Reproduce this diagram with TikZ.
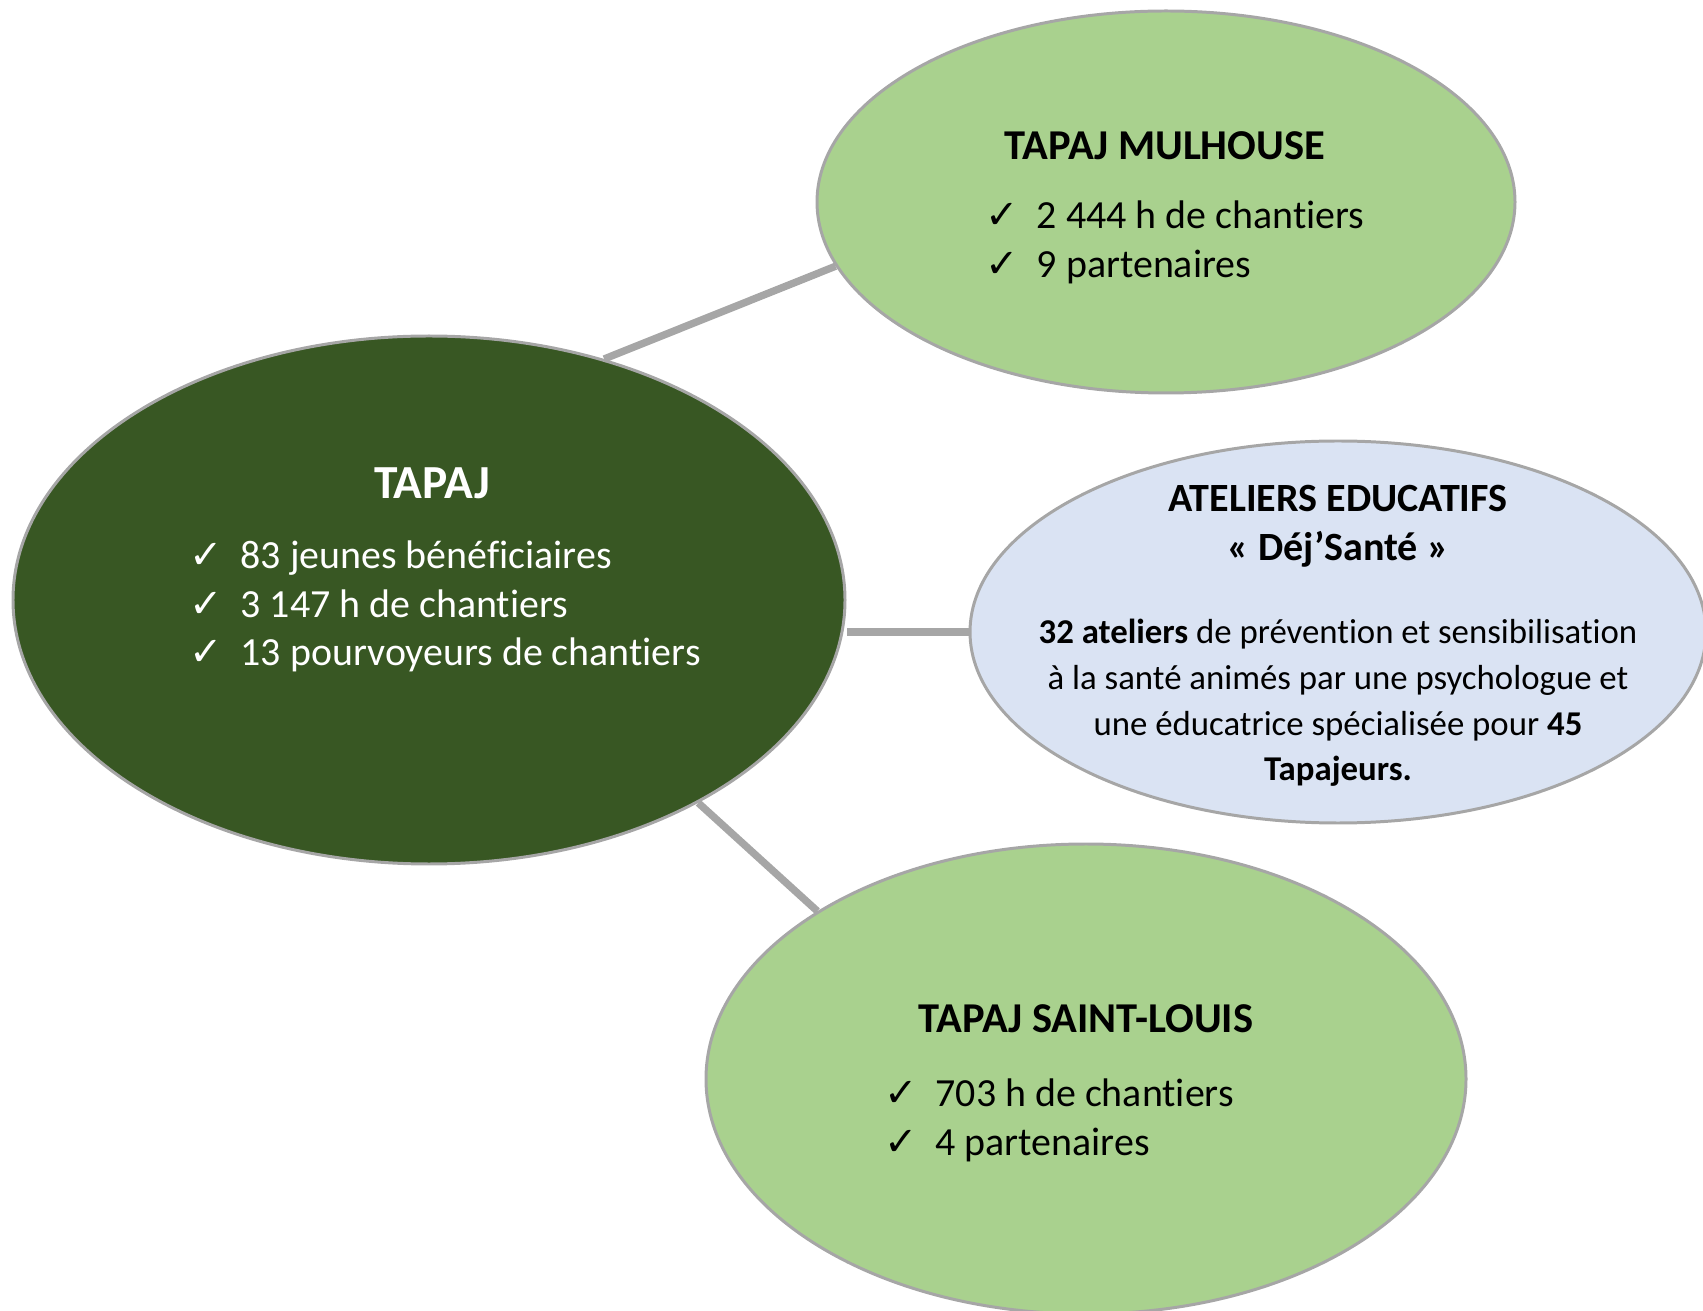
\documentclass[tikz,border=0pt]{standalone}
\usepackage{fontspec}
\setmainfont{Carlito}[Ligatures=NoCommon]
\newfontfamily\checkfont{DejaVu Sans}
\usepackage{tikz}
\usetikzlibrary{shapes,positioning,calc}
\definecolor{darkgreen}{RGB}{56,87,35}
\definecolor{lightgreen}{RGB}{169,209,142}
\definecolor{lightblue}{RGB}{218,227,243}
\definecolor{bordergray}{RGB}{166,166,166}
\tikzstyle{bubble} = [ellipse, draw=bordergray, line width=0.85pt, inner sep=0pt]
\tikzstyle{link} = [draw=bordergray, line width=2.1pt]
\tikzstyle{title} = [font=\bfseries\fontsize{12.1}{13.9}\selectfont, align=center, inner sep=0pt]
\tikzstyle{list} = [font=\fontsize{11.35}{13.9}\selectfont, align=left, inner sep=0pt]
\newcommand{\chk}{{\checkfont ✓}\hspace{0.45em}}

\begin{document}
\begin{tikzpicture}[font=\fontsize{11.35}{13.9}\selectfont]
	\useasboundingbox (0,0) rectangle (17.03,13.10);
	\clip (0,0) rectangle (17.03,13.10);

	\node[bubble, minimum width=8.32cm, minimum height=5.28cm, fill=darkgreen] at (4.29,7.10) (Tapaj) {};
	\node[bubble, minimum width=6.98cm, minimum height=3.82cm, fill=lightgreen] at (11.66,11.08) (Tapaj-Mulhouse) {};
	\node[bubble, minimum width=7.36cm, minimum height=3.82cm, fill=lightblue] at (13.38,6.78) (Ateliers) {};
	\node[bubble, minimum width=7.60cm, minimum height=4.70cm, fill=lightgreen] at (10.86,2.31) (Tapaj-StLouis) {};

	\draw[link] (Tapaj.54) -- (Tapaj-Mulhouse.191);
	\draw[link] (Ateliers.west) -- (Ateliers.west -| Tapaj.east);
	\draw[link] (Tapaj.-37.6) -- (Tapaj-StLouis.148.3);

	% texts
	\node[title, text=white, font=\bfseries\fontsize{13.5}{16}\selectfont] at([xshift=0.03cm, yshift=1.17cm]Tapaj.center) (Tapaj-title) {TAPAJ};
	\node[list, text=white] at([xshift=0.16cm, yshift=-0.065cm]Tapaj.center) (Tapaj-list) {\chk 83 jeunes bénéficiaires\\\chk 3 147 h de chantiers\\\chk 13 pourvoyeurs de chantiers};

	\node[title] at([xshift=-0.01cm, yshift=0.56cm]Tapaj-Mulhouse.center) (Mulhouse-title) {TAPAJ MULHOUSE};
	\node[list] at([xshift=0.09cm, yshift=-0.40cm]Tapaj-Mulhouse.center) (Mulhouse-list) {\chk 2 444 h de chantiers\\\chk 9 partenaires};

	\node[title, font=\bfseries\fontsize{11.4}{13.9}\selectfont] at([yshift=1.06cm]Ateliers.center) (Ateliers-title) {ATELIERS EDUCATIFS\\« Déj’Santé »};
	\node[list, align=center, font=\fontsize{9.9}{13}\selectfont] at([yshift=-0.71cm]Ateliers.center) (Ateliers-text) {\textbf{32 ateliers} de prévention et sensibilisation\\à la santé animés par une psychologue et\\une éducatrice spécialisée pour \textbf{45}\\\textbf{Tapajeurs.}};

	\node[title] at([yshift=0.60cm]Tapaj-StLouis.center) (StLouis-title) {TAPAJ SAINT-LOUIS};
	\node[list] at([xshift=-0.27cm, yshift=-0.41cm]Tapaj-StLouis.center) (StLouis-list) {\chk 703 h de chantiers\\\chk 4 partenaires};
\end{tikzpicture}
\end{document}
